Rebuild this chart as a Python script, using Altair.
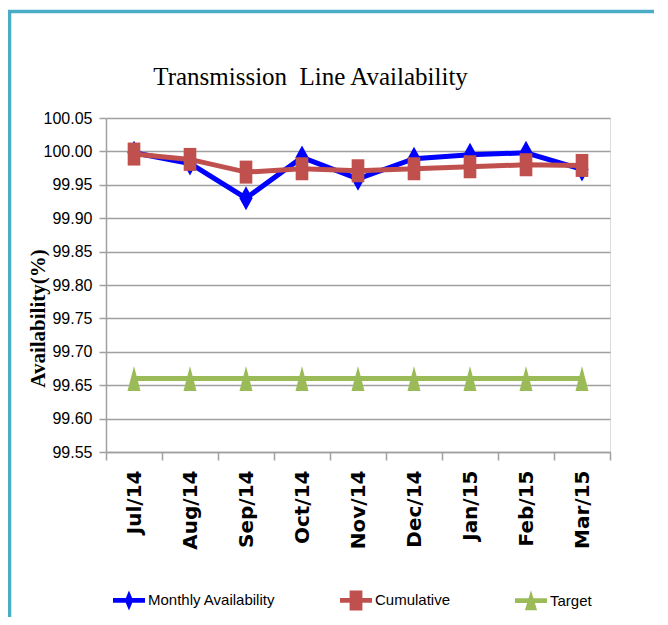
import altair as alt
import pandas as pd

months = ["Jul/14", "Aug/14", "Sep/14", "Oct/14", "Nov/14", "Dec/14", "Jan/15", "Feb/15", "Mar/15"]
monthly = [99.998, 99.982, 99.930, 99.991, 99.959, 99.989, 99.995, 99.998, 99.973]
cumulative = [99.996, 99.988, 99.969, 99.974, 99.971, 99.974, 99.977, 99.980, 99.979]
target = [99.66, 99.66, 99.66, 99.66, 99.66, 99.66, 99.66, 99.66, 99.66]
series_names = ["Monthly Availability", "Cumulative", "Target"]
series_colors = ["#0000FF", "#C0504D", "#9BBB59"]
y_ticks = [99.55, 99.60, 99.65, 99.70, 99.75, 99.80, 99.85, 99.90, 99.95, 100.00, 100.05]

rows = []
for name, vals in zip(series_names, [monthly, cumulative, target]):
    for m, v in zip(months, vals):
        rows.append({"month": m, "value": v, "series": name})
df = pd.DataFrame(rows)

# marker shapes
DIAMOND = "M0,-1 L0.55,0 L0,1 L-0.55,0 Z"
SQUARE = "M-0.55,-1 L0.55,-1 L0.55,1 L-0.55,1 Z"
TRIANGLE = "M0,-1 L0.52,1 L-0.52,1 Z"
# legend symbols: line + marker
BAR = "M-1,-0.15 L1,-0.15 L1,0.15 L-1,0.15 Z "
LEG_DIAMOND = BAR + "M0,-0.63 L0.26,0 L0,0.63 L-0.26,0 Z"
LEG_SQUARE = BAR + "M-0.4,-0.63 L0.4,-0.63 L0.4,0.63 L-0.4,0.63 Z"
LEG_TRIANGLE = BAR + "M0,-0.65 L0.38,0.6 L-0.38,0.6 Z"

grey = "#A0A0A0"
teal = "#4BACC6"
sans = "Liberation Sans, Arial"

x_enc = alt.X(
    "month:N",
    sort=months,
    scale=alt.Scale(type="band", paddingInner=0, paddingOuter=0),
    axis=alt.Axis(
        title=None,
        labelAngle=270,
        tickBand="extent",
        grid=False,
        domainColor=grey,
        domainWidth=1.5,
        tickColor=grey,
        tickWidth=1.5,
        tickSize=8,
        labelPadding=10,
        labelFont="DejaVu Sans",
        labelFontWeight="bold",
        labelFontSize=20,
        labelColor="#000000",
    ),
)
y_enc = alt.Y(
    "value:Q",
    scale=alt.Scale(domain=[99.55, 100.05], nice=False, zero=False),
    axis=alt.Axis(
        values=y_ticks,
        format=".2f",
        title="Availability(%)",
        titleFont="Liberation Serif",
        titleFontWeight="bold",
        titleFontSize=21,
        titleColor="#000000",
        titleAngle=270,
        titleAlign="center",
        titleBaseline="alphabetic",
        titleX=-62,
        titleY=200,
        domainColor=grey,
        domainWidth=1.5,
        tickColor=grey,
        tickWidth=1.5,
        tickSize=7,
        labelPadding=7,
        gridColor=grey,
        gridWidth=1.5,
        labelFont=sans,
        labelFontSize=16,
        labelColor="#000000",
    ),
)

base = alt.Chart(df).encode(x=x_enc, y=y_enc)


def series_layers(name, color, shape, size):
    sub = base.transform_filter(alt.datum.series == name)
    line = sub.mark_line(color=color, strokeWidth=5)
    pts = sub.mark_point(shape=shape, size=size, filled=True, color=color, opacity=1, strokeWidth=0)
    return [line, pts]


layers = []
layers += series_layers("Monthly Availability", series_colors[0], DIAMOND, 576)
layers += series_layers("Cumulative", series_colors[1], SQUARE, 529)
layers += series_layers("Target", series_colors[2], TRIANGLE, 625)

leg = alt.Legend(
    title=None,
    orient="none",
    legendX=7,
    legendY=466,
    direction="horizontal",
    columns=3,
    columnPadding=64,
    symbolSize=1024,
    symbolStrokeWidth=0,
    labelOffset=3,
    labelFont=sans,
    labelFontSize=15,
    labelColor="#000000",
)
legend_layer = base.transform_filter("false").mark_point(filled=True, opacity=1).encode(
    color=alt.Color("series:N", scale=alt.Scale(domain=series_names, range=series_colors), legend=leg),
    shape=alt.Shape(
        "series:N",
        scale=alt.Scale(domain=series_names, range=[LEG_DIAMOND, LEG_SQUARE, LEG_TRIANGLE]),
        legend=leg,
    ),
)

frame_data = alt.Data(values=[{"k": 0}])
top_rule = alt.Chart(frame_data).mark_rule(color=teal, strokeWidth=3.5).encode(
    x=alt.value(-98), x2=alt.value(548), y=alt.value(-106.5)
)
left_rule = alt.Chart(frame_data).mark_rule(color=teal, strokeWidth=3.5).encode(
    x=alt.value(-96.5), y=alt.value(-108), y2=alt.value(505)
)

chart = (
    alt.layer(*layers, legend_layer, top_rule, left_rule)
    .properties(
        width=504,
        height=334,
        autosize=alt.AutoSizeParams(type="none"),
        padding={"left": 98, "top": 110, "right": 50, "bottom": 165},
        title=alt.TitleParams(
            "Transmission\u00a0 Line Availability",
            font="Liberation Serif",
            fontSize=25,
            fontWeight="normal",
            color="#000000",
            anchor="start",
            dx=147,
            dy=123,
            baseline="bottom",
            offset=16,
        ),
    )
    .configure_view(strokeWidth=0)
    .configure(background="#FFFFFF")
)

chart.save("out.html", embed_options={"renderer": "svg", "actions": False})
